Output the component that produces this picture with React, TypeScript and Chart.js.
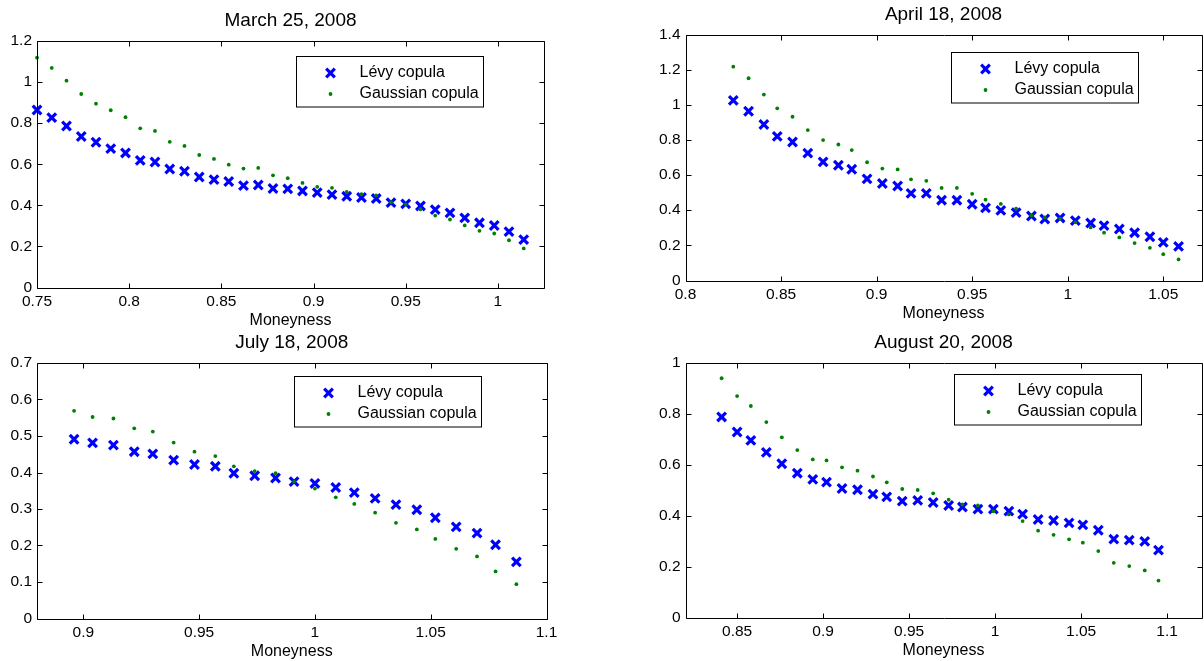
import React, { useEffect, useRef } from "react";
import { Chart, registerables } from "chart.js";

Chart.register(...registerables);

// ---------- Data ----------
// March 25, 2008
const marMoneyness = [0.75, 0.758, 0.766, 0.774, 0.782, 0.79, 0.798, 0.806, 0.814, 0.822, 0.83, 0.838, 0.846, 0.854, 0.862, 0.87, 0.878, 0.886, 0.894, 0.902, 0.91, 0.918, 0.926, 0.934, 0.942, 0.95, 0.958, 0.966, 0.974, 0.982, 0.99, 0.998, 1.006, 1.014];
const marLevy = [0.864, 0.827, 0.786, 0.735, 0.707, 0.676, 0.655, 0.619, 0.611, 0.577, 0.566, 0.538, 0.525, 0.516, 0.496, 0.499, 0.482, 0.48, 0.47, 0.462, 0.452, 0.444, 0.438, 0.433, 0.413, 0.407, 0.397, 0.379, 0.363, 0.339, 0.315, 0.302, 0.272, 0.233];
const marGauss = [1.119, 1.069, 1.007, 0.942, 0.895, 0.863, 0.829, 0.775, 0.762, 0.709, 0.689, 0.645, 0.626, 0.598, 0.579, 0.582, 0.546, 0.532, 0.509, 0.49, 0.485, 0.465, 0.454, 0.448, 0.415, 0.404, 0.381, 0.35, 0.331, 0.302, 0.276, 0.263, 0.23, 0.19];
const marXTicks = [0.75, 0.8, 0.85, 0.9, 0.95, 1];
const marYTicks = [0, 0.2, 0.4, 0.6, 0.8, 1, 1.2];

// April 18, 2008
const aprMoneyness = [0.825, 0.833, 0.841, 0.848, 0.856, 0.864, 0.872, 0.88, 0.887, 0.895, 0.903, 0.911, 0.918, 0.926, 0.934, 0.942, 0.95, 0.957, 0.965, 0.973, 0.981, 0.988, 0.996, 1.004, 1.012, 1.019, 1.027, 1.035, 1.043, 1.05, 1.058];
const aprLevy = [1.025, 0.963, 0.888, 0.82, 0.788, 0.725, 0.675, 0.656, 0.633, 0.578, 0.552, 0.538, 0.496, 0.496, 0.457, 0.457, 0.434, 0.413, 0.399, 0.386, 0.367, 0.35, 0.356, 0.341, 0.327, 0.312, 0.293, 0.272, 0.249, 0.217, 0.194];
const aprGauss = [1.217, 1.151, 1.058, 0.98, 0.932, 0.856, 0.799, 0.774, 0.742, 0.673, 0.637, 0.632, 0.576, 0.567, 0.527, 0.527, 0.493, 0.46, 0.436, 0.409, 0.371, 0.359, 0.352, 0.331, 0.302, 0.272, 0.245, 0.213, 0.186, 0.15, 0.12];
const aprXTicks = [0.8, 0.85, 0.9, 0.95, 1, 1.05];
const aprYTicks = [0, 0.2, 0.4, 0.6, 0.8, 1, 1.2, 1.4];

// July 18, 2008
const julMoneyness = [0.896, 0.904, 0.913, 0.922, 0.93, 0.939, 0.948, 0.957, 0.965, 0.974, 0.983, 0.991, 1.0, 1.009, 1.017, 1.026, 1.035, 1.044, 1.052, 1.061, 1.07, 1.078, 1.087];
const julLevy = [0.491, 0.481, 0.475, 0.457, 0.451, 0.434, 0.422, 0.417, 0.398, 0.391, 0.385, 0.375, 0.37, 0.359, 0.345, 0.329, 0.312, 0.298, 0.276, 0.251, 0.234, 0.202, 0.155];
const julGauss = [0.569, 0.552, 0.548, 0.521, 0.512, 0.482, 0.457, 0.445, 0.417, 0.404, 0.398, 0.375, 0.356, 0.332, 0.314, 0.29, 0.262, 0.244, 0.218, 0.191, 0.17, 0.129, 0.094];
const julXTicks = [0.9, 0.95, 1, 1.05, 1.1];
const julYTicks = [0, 0.1, 0.2, 0.3, 0.4, 0.5, 0.6, 0.7];

// August 20, 2008
const augMoneyness = [0.841, 0.85, 0.858, 0.867, 0.876, 0.885, 0.894, 0.902, 0.911, 0.92, 0.929, 0.937, 0.946, 0.955, 0.964, 0.973, 0.981, 0.99, 0.999, 1.008, 1.016, 1.025, 1.034, 1.043, 1.051, 1.06, 1.069, 1.078, 1.087, 1.095];
const augLevy = [0.788, 0.729, 0.696, 0.649, 0.604, 0.567, 0.543, 0.532, 0.507, 0.502, 0.485, 0.474, 0.457, 0.46, 0.452, 0.44, 0.434, 0.426, 0.426, 0.418, 0.406, 0.385, 0.381, 0.372, 0.364, 0.343, 0.308, 0.304, 0.299, 0.265];
const augGauss = [0.94, 0.87, 0.831, 0.768, 0.708, 0.658, 0.621, 0.617, 0.59, 0.577, 0.554, 0.531, 0.505, 0.501, 0.488, 0.463, 0.444, 0.44, 0.417, 0.405, 0.379, 0.341, 0.325, 0.307, 0.294, 0.261, 0.215, 0.202, 0.185, 0.145];
const augXTicks = [0.85, 0.9, 0.95, 1, 1.05, 1.1];
const augYTicks = [0, 0.2, 0.4, 0.6, 0.8, 1];

const seriesNames = ["Lévy copula", "Gaussian copula"];
const xAxisLabel = "Moneyness";

// ---------- Layout / style ----------
const FONT = "'Liberation Sans', Arial, Helvetica, sans-serif";
const BLUE = "#0000ff";
const GREEN = "#008000";
const CROSS_HALF = 4.3;
const CROSS_LW = 3.2;
const DOT_R = 1.9;

type Panel = {
  title: string;
  x: number[];
  levy: number[];
  gauss: number[];
  xMin: number;
  xMax: number;
  yMax: number;
  xTicks: number[];
  yTicks: number[];
  frame: { left: number; top: number; width: number; height: number };
  area: { l: number; t: number; r: number; b: number };
  legend: { left: number; top: number };
};

const panels: Panel[] = [
  {
    title: "March 25, 2008", x: marMoneyness, levy: marLevy, gauss: marGauss,
    xMin: 0.75, xMax: 1.025, yMax: 1.2, xTicks: marXTicks, yTicks: marYTicks,
    frame: { left: 0, top: 0, width: 602, height: 330 },
    area: { l: 37, t: 41, r: 544, b: 287.5 },
    legend: { left: 295.5, top: 55.5 },
  },
  {
    title: "April 18, 2008", x: aprMoneyness, levy: aprLevy, gauss: aprGauss,
    xMin: 0.8, xMax: 1.07, yMax: 1.4, xTicks: aprXTicks, yTicks: aprYTicks,
    frame: { left: 602, top: 0, width: 602, height: 330 },
    area: { l: 685.5, t: 34.5, r: 1201.5, b: 280.5 },
    legend: { left: 951, top: 51.5 },
  },
  {
    title: "July 18, 2008", x: julMoneyness, levy: julLevy, gauss: julGauss,
    xMin: 0.88, xMax: 1.1, yMax: 0.7, xTicks: julXTicks, yTicks: julYTicks,
    frame: { left: 0, top: 330, width: 602, height: 331 },
    area: { l: 37, t: 363, r: 546.5, b: 618.5 },
    legend: { left: 293.5, top: 375.5 },
  },
  {
    title: "August 20, 2008", x: augMoneyness, levy: augLevy, gauss: augGauss,
    xMin: 0.82, xMax: 1.12, yMax: 1, xTicks: augXTicks, yTicks: augYTicks,
    frame: { left: 602, top: 330, width: 602, height: 331 },
    area: { l: 685.5, t: 363, r: 1201.5, b: 617.5 },
    legend: { left: 953.5, top: 374 },
  },
];

function drawCross(ctx: CanvasRenderingContext2D, x: number, y: number) {
  ctx.save();
  ctx.strokeStyle = BLUE;
  ctx.lineWidth = CROSS_LW;
  ctx.beginPath();
  ctx.moveTo(x - CROSS_HALF, y - CROSS_HALF);
  ctx.lineTo(x + CROSS_HALF, y + CROSS_HALF);
  ctx.moveTo(x + CROSS_HALF, y - CROSS_HALF);
  ctx.lineTo(x - CROSS_HALF, y + CROSS_HALF);
  ctx.stroke();
  ctx.restore();
}

function drawDot(ctx: CanvasRenderingContext2D, x: number, y: number) {
  ctx.save();
  ctx.fillStyle = GREEN;
  ctx.beginPath();
  ctx.arc(x, y, DOT_R, 0, Math.PI * 2);
  ctx.fill();
  ctx.restore();
}

const matlabPlugin = {
  id: "matlabFrame",
  afterDatasetsDraw(chart: any, _args: any, opts: any) {
    const ctx: CanvasRenderingContext2D = chart.ctx;
    const { left, top, right, bottom } = chart.chartArea;
    const xs = chart.scales.x;
    const ys = chart.scales.y;
    const L = Math.round(left) + 0.5;
    const T = Math.round(top) + 0.5;
    const R = Math.round(right) + 0.5;
    const B = Math.round(bottom) + 0.5;
    const tl = 5;
    ctx.save();
    ctx.strokeStyle = "#000";
    ctx.lineWidth = 1;
    ctx.beginPath();
    ctx.rect(L, T, R - L, B - T);
    for (const t of xs.ticks) {
      const px = Math.round(xs.getPixelForValue(t.value)) + 0.5;
      ctx.moveTo(px, B);
      ctx.lineTo(px, B - tl);
      ctx.moveTo(px, T);
      ctx.lineTo(px, T + tl);
    }
    for (const t of ys.ticks) {
      const py = Math.round(ys.getPixelForValue(t.value)) + 0.5;
      ctx.moveTo(L, py);
      ctx.lineTo(L + tl, py);
      ctx.moveTo(R, py);
      ctx.lineTo(R - tl, py);
    }
    ctx.stroke();

    // legend
    const lg = opts.legend;
    const lw = 187;
    const lh = 50.5;
    const lx = Math.round(lg.left) + 0.5;
    const ly = Math.round(lg.top) + 0.5;
    ctx.fillStyle = "#fff";
    ctx.fillRect(lx, ly, lw, lh);
    ctx.strokeStyle = "#000";
    ctx.lineWidth = 1;
    ctx.strokeRect(lx, ly, lw, lh);
    const row1 = ly + 16.5;
    const row2 = ly + 37.5;
    drawCross(ctx, lx + 34, row1);
    drawDot(ctx, lx + 34, row2);
    ctx.fillStyle = "#000";
    ctx.font = `16px ${FONT}`;
    ctx.textAlign = "left";
    ctx.textBaseline = "middle";
    ctx.fillText(opts.names[0], lx + 63, row1);
    ctx.fillText(opts.names[1], lx + 63, row2);

    // title and x label
    const cx = (left + right) / 2;
    ctx.textAlign = "center";
    ctx.font = `19px ${FONT}`;
    ctx.fillText(opts.title, cx, top - 20);
    ctx.font = `16px ${FONT}`;
    ctx.fillText(opts.xlabel, cx, bottom + 33);
    ctx.restore();
  },
};

function fmt(v: number) {
  return String(Number(v.toFixed(4)));
}

function PanelChart({ p }: { p: Panel }) {
  const ref = useRef<HTMLCanvasElement | null>(null);
  useEffect(() => {
    if (!ref.current) return;
    const fr = p.frame;
    const aL = p.area.l - fr.left;
    const aT = p.area.t - fr.top;
    const aR = p.area.r - fr.left;
    const aB = p.area.b - fr.top;
    const xAxisH = 20;
    const chart = new Chart(ref.current, {
      type: "scatter",
      data: {
        datasets: [
          {
            label: seriesNames[1],
            data: p.x.map((xv, i) => ({ x: xv, y: p.gauss[i] })),
            pointStyle: "circle",
            pointRadius: DOT_R,
            pointBackgroundColor: GREEN,
            pointBorderWidth: 0,
            borderColor: GREEN,
            backgroundColor: GREEN,
            clip: false,
            order: 0,
          },
          {
            label: seriesNames[0],
            data: p.x.map((xv, i) => ({ x: xv, y: p.levy[i] })),
            pointStyle: "crossRot",
            pointRadius: CROSS_HALF / Math.cos(Math.PI / 4),
            pointBorderWidth: CROSS_LW,
            pointBorderColor: BLUE,
            borderColor: BLUE,
            backgroundColor: BLUE,
            clip: false,
            order: 1,
          },
        ],
      },
      options: {
        animation: false,
        responsive: false,
        maintainAspectRatio: false,
        devicePixelRatio: 1,
        layout: {
          autoPadding: false,
          padding: {
            left: 0,
            top: aT,
            right: fr.width - aR,
            bottom: fr.height - aB - xAxisH,
          },
        },
        plugins: {
          legend: { display: false },
          title: { display: false },
          tooltip: { enabled: false },
          matlabFrame: {
            title: p.title,
            xlabel: xAxisLabel,
            names: seriesNames,
            legend: { left: p.legend.left - fr.left, top: p.legend.top - fr.top },
          },
        } as any,
        scales: {
          x: {
            type: "linear",
            min: p.xMin,
            max: p.xMax,
            grid: { display: false, drawTicks: false, tickLength: 0 },
            border: { display: false },
            afterBuildTicks: (s: any) => {
              s.ticks = p.xTicks.map((v) => ({ value: v }));
            },
            afterFit: (s: any) => {
              s.height = xAxisH;
            },
            ticks: {
              padding: 5,
              maxRotation: 0,
              autoSkip: false,
              color: "#000",
              font: { family: FONT, size: 15.5 },
              callback: (v: any) => fmt(Number(v)),
            },
          },
          y: {
            type: "linear",
            min: 0,
            max: p.yMax,
            grid: { display: false, drawTicks: false, tickLength: 0 },
            border: { display: false },
            afterBuildTicks: (s: any) => {
              s.ticks = p.yTicks.map((v) => ({ value: v }));
            },
            afterFit: (s: any) => {
              s.width = aL;
            },
            ticks: {
              padding: 5,
              autoSkip: false,
              color: "#000",
              font: { family: FONT, size: 15.5 },
              callback: (v: any) => fmt(Number(v)),
            },
          },
        },
      },
      plugins: [matlabPlugin],
    } as any);
    return () => chart.destroy();
  }, [p]);
  return (
    <canvas
      ref={ref}
      width={p.frame.width}
      height={p.frame.height}
      style={{
        position: "absolute",
        left: p.frame.left,
        top: p.frame.top,
        width: p.frame.width,
        height: p.frame.height,
      }}
    />
  );
}

export default function App() {
  return (
    <div
      style={{
        position: "fixed",
        left: 0,
        top: 0,
        width: 1204,
        height: 661,
        background: "#fff",
        overflow: "hidden",
      }}
    >
      {panels.map((p) => (
        <PanelChart key={p.title} p={p} />
      ))}
    </div>
  );
}
